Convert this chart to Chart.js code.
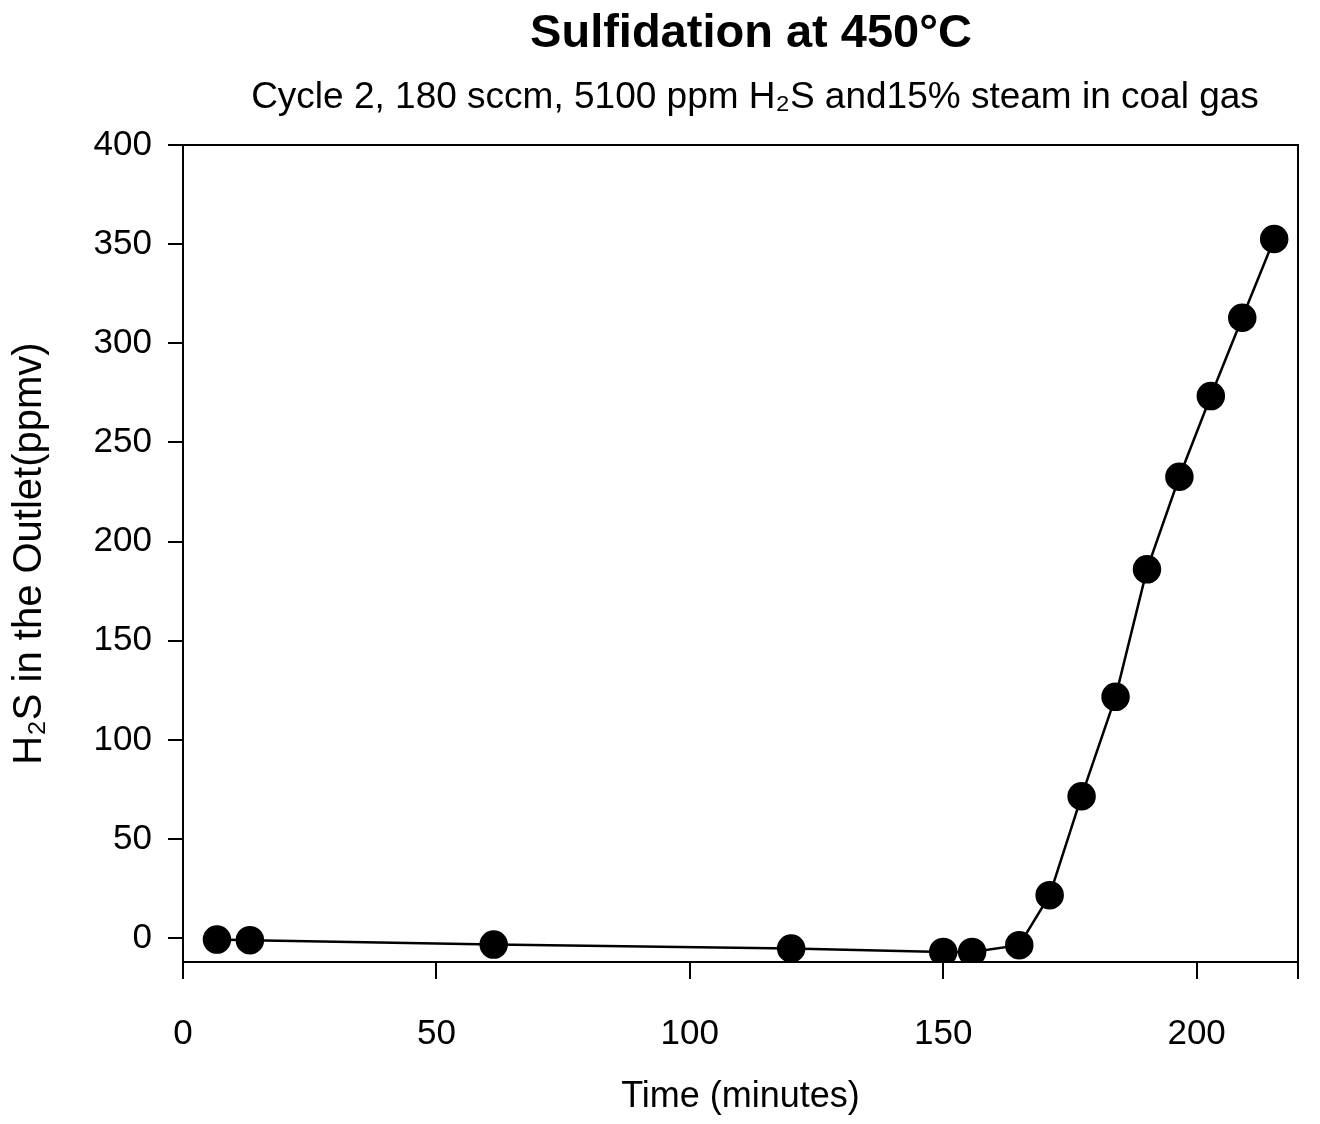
<!DOCTYPE html>
<html>
<head>
<meta charset="utf-8">
<script src="https://cdn.jsdelivr.net/npm/chart.js@4.4.1/dist/chart.umd.min.js"></script>
<style>
    body { margin: 0; background: #fff; }
    #wrap { width: 1320px; height: 1124px; }
</style>
</head>
<body>
<div id="wrap"><canvas id="mychart"></canvas></div>
<script>
// values
var times = [6.7, 13.2, 61.3, 120, 150, 155.7, 165, 171, 177.3, 184, 190.2, 196.6, 202.8, 209, 215.3]
var h2s = [-0.7, -1, -3.2, -5.2, -6.9, -6.9, -3.5, 21.7, 71.6, 121.7, 186, 232.7, 273.4, 312.9, 352.6]

var xTicks = [0, 50, 100, 150, 200]
var yTicks = [0, 50, 100, 150, 200, 250, 300, 350, 400]

var titleText = 'Sulfidation at 450°C'
var subtitleText = 'Cycle 2, 180 sccm, 5100 ppm H₂S and15% steam in coal gas'

var font = '"Liberation Sans", Arial, sans-serif'

Chart.defaults.color = '#000'
Chart.defaults.font.family = font

// frame (top + right side) and the two heading lines
var framePlugin = {
    id: 'frame',
    afterDraw: function (chart) {
        var ctx = chart.ctx
        var a = chart.chartArea
        ctx.save()
        ctx.strokeStyle = '#000'
        ctx.lineWidth = 2
        ctx.beginPath()
        ctx.moveTo(a.left, a.top)
        ctx.lineTo(a.right, a.top)
        ctx.lineTo(a.right, a.bottom + 17)
        ctx.stroke()

        ctx.fillStyle = '#000'
        ctx.textAlign = 'center'
        ctx.textBaseline = 'alphabetic'
        ctx.font = 'bold 47px ' + font
        ctx.fillText(titleText, 751, 47)
        ctx.font = '37px ' + font
        ctx.fillText(subtitleText, 755, 108)
        ctx.restore()
    }
}

var pts = times.map(function (t, i) { return { x: t, y: h2s[i] } })

var mychart = new Chart(document.getElementById('mychart'), {
    type: 'scatter',
    data: {
        datasets: [{
            data: pts,
            showLine: true,
            borderColor: '#000',
            borderWidth: 2.5,
            backgroundColor: '#000',
            pointRadius: 13,
            pointHoverRadius: 13,
            tension: 0
        }]
    },
    options: {
        responsive: true,
        maintainAspectRatio: false,
        animation: false,
        layout: { padding: { top: 145, right: 22, left: 0, bottom: 0 } },
        plugins: {
            legend: { display: false },
            tooltip: { enabled: false }
        },
        scales: {
            x: {
                type: 'linear',
                min: 0,
                max: 220,
                afterBuildTicks: function (s) { s.ticks = xTicks.map(function (v) { return { value: v } }) },
                afterFit: function (s) { s.height = 162 },
                grid: { drawOnChartArea: false, drawTicks: true, tickLength: 17, color: '#000', lineWidth: 2 },
                border: { display: true, color: '#000', width: 2 },
                ticks: { font: { size: 35 }, padding: 34, maxRotation: 0 },
                title: { display: true, text: 'Time (minutes)', font: { size: 36 }, padding: { top: 0, bottom: 5 } }
            },
            y: {
                min: -12,
                max: 400,
                afterBuildTicks: function (s) { s.ticks = yTicks.map(function (v) { return { value: v } }) },
                afterFit: function (s) { s.width = 183 },
                grid: { drawOnChartArea: false, drawTicks: true, tickLength: 15, color: '#000', lineWidth: 2 },
                border: { display: true, color: '#000', width: 2 },
                ticks: { font: { size: 35 }, padding: 16 },
                title: { display: true, text: 'H₂S in the Outlet(ppmv)', font: { size: 40 }, padding: { top: 6, bottom: 0 } }
            }
        }
    },
    plugins: [framePlugin]
})
</script>
</body>
</html>
